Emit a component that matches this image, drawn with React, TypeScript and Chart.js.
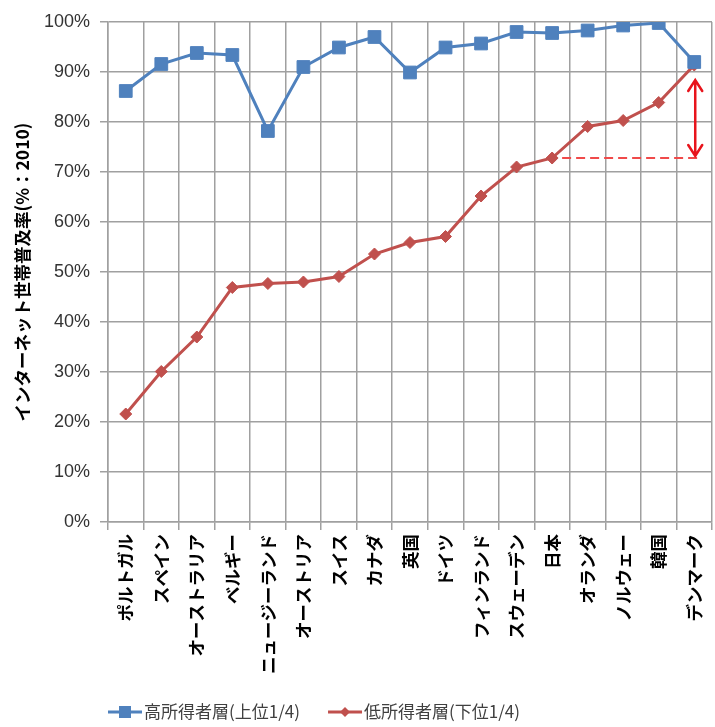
import React, { useEffect, useRef } from 'react';
import { Chart, registerables } from 'chart.js';

Chart.register(...registerables);

// ---- data ----
const countries = [
  'ポルトガル', 'スペイン', 'オーストラリア', 'ベルギー', 'ニュージーランド', 'オーストリア',
  'スイス', 'カナダ', '英国', 'ドイツ', 'フィンランド', 'スウェーデン', '日本', 'オランダ',
  'ノルウェー', '韓国', 'デンマーク',
];
const highIncome = [86.2, 91.6, 93.8, 93.4, 78.2, 91.0, 94.9, 97.0, 89.9, 94.9, 95.7, 98.0, 97.8, 98.3, 99.3, 99.8, 92.0];
const lowIncome = [21.6, 30.1, 37.0, 46.9, 47.7, 48.0, 49.1, 53.6, 55.9, 57.1, 65.2, 71.0, 72.8, 79.1, 80.3, 83.9, 91.4];
const seriesNames = ['高所得者層(上位1/4)', '低所得者層(下位1/4)'];
const yTitle = 'インターネット世帯普及率(%：2010)';
const yMin = 0;
const yMax = 100;
const yStep = 10;
const gapFrom = '日本';
const gapTo = 'デンマーク';

const BLUE = '#4F81BD';
const RED = '#C0504D';
const ARROW_RED = '#E8141C';
const GRID = '#a0a0a0';
const JP = '"Noto Sans CJK JP", "Noto Sans", sans-serif';

const gapPlugin = {
  id: 'gapAnnotation',
  afterDatasetsDraw(chart: any) {
    const { ctx } = chart;
    const xs = chart.scales.x;
    const ys = chart.scales.y;
    const iFrom = countries.indexOf(gapFrom);
    const iTo = countries.indexOf(gapTo);
    const half = (xs.getPixelForValue(1) - xs.getPixelForValue(0)) / 2;
    const xFrom = xs.getPixelForValue(iFrom);
    const xTo = xs.getPixelForValue(iTo);
    const yFrom = ys.getPixelForValue(lowIncome[iFrom]);
    const yTop = ys.getPixelForValue(lowIncome[iTo]);
    ctx.save();
    // dashed reference line
    ctx.strokeStyle = '#F04A4A';
    ctx.lineWidth = 2;
    ctx.setLineDash([9, 5]);
    ctx.beginPath();
    ctx.moveTo(xFrom + 10, yFrom);
    ctx.lineTo(xTo + half * 0.35, yFrom);
    ctx.stroke();
    ctx.setLineDash([]);
    // double arrow
    const ax = xTo + 1;
    const a1 = yTop + 15;
    const a2 = yFrom - 2;
    ctx.strokeStyle = ARROW_RED;
    ctx.lineWidth = 2.5;
    ctx.lineCap = 'round';
    ctx.beginPath();
    ctx.moveTo(ax, a1);
    ctx.lineTo(ax, a2);
    ctx.moveTo(ax - 7, a1 + 11);
    ctx.lineTo(ax, a1);
    ctx.lineTo(ax + 7, a1 + 11);
    ctx.moveTo(ax - 7, a2 - 11);
    ctx.lineTo(ax, a2);
    ctx.lineTo(ax + 7, a2 - 11);
    ctx.stroke();
    ctx.restore();
  },
};

const legendPlugin = {
  id: 'lineLegend',
  afterDraw(chart: any) {
    const { ctx } = chart;
    const y = chart.height - 15;
    let x = chart.chartArea.left;
    ctx.save();
    ctx.font = `17px ${JP}`;
    ctx.textBaseline = 'middle';
    chart.data.datasets.forEach((ds: any, i: number) => {
      const lineW = 34;
      ctx.strokeStyle = ds.borderColor;
      ctx.lineWidth = 3;
      ctx.beginPath();
      ctx.moveTo(x, y);
      ctx.lineTo(x + lineW, y);
      ctx.stroke();
      const cx = x + lineW / 2;
      ctx.fillStyle = ds.borderColor;
      ctx.beginPath();
      if (i === 0) {
        ctx.rect(cx - 6, y - 6, 12, 12);
      } else {
        ctx.moveTo(cx, y - 5);
        ctx.lineTo(cx + 5, y);
        ctx.lineTo(cx, y + 5);
        ctx.lineTo(cx - 5, y);
        ctx.closePath();
      }
      ctx.fill();
      ctx.fillStyle = '#404040';
      ctx.fillText(ds.label, x + lineW + 2, y);
      x += lineW + 2 + ctx.measureText(ds.label).width + 28;
    });
    ctx.restore();
  },
};

export default function App() {
  const ref = useRef<HTMLCanvasElement>(null);

  useEffect(() => {
    if (!ref.current) return;
    const chart = new Chart(ref.current, {
      type: 'line',
      data: {
        labels: countries,
        datasets: [
          {
            label: seriesNames[0],
            data: highIncome,
            borderColor: BLUE,
            backgroundColor: BLUE,
            borderWidth: 3,
            pointStyle: 'rect',
            pointRadius: 9,
            pointBorderWidth: 1,
            pointBackgroundColor: BLUE,
            pointBorderColor: BLUE,
            tension: 0,
          },
          {
            label: seriesNames[1],
            data: lowIncome,
            borderColor: RED,
            backgroundColor: RED,
            borderWidth: 3,
            pointStyle: 'rectRot',
            pointRadius: 6,
            pointBorderWidth: 1,
            pointBackgroundColor: RED,
            pointBorderColor: RED,
            tension: 0,
          },
        ],
      },
      options: {
        responsive: false,
        animation: false,
        layout: { padding: { left: 0, right: 2, top: 22, bottom: 40 } },
        plugins: {
          legend: { display: false },
          tooltip: { enabled: false },
        },
        scales: {
          x: {
            type: 'category',
            offset: true,
            grid: { offset: true, color: GRID, lineWidth: 1.5, tickLength: 8 },
            border: { color: GRID, width: 1.5 },
            ticks: {
              autoSkip: false,
              maxRotation: 90,
              minRotation: 90,
              padding: 4,
              color: '#000',
              font: { family: JP, size: 17.5, weight: 'bold' },
            },
            afterFit: (scale: any) => { scale.height = 165; },
          },
          y: {
            min: yMin,
            max: yMax,
            grid: { color: GRID, lineWidth: 1.5, tickLength: 8 },
            border: { color: GRID, width: 1.5 },
            ticks: {
              stepSize: yStep,
              padding: 10,
              color: '#333',
              font: { family: '"Liberation Sans", Arial, sans-serif', size: 18 },
              callback: (v: any) => `${v}%`,
            },
            title: {
              display: true,
              text: yTitle,
              color: '#000',
              padding: { top: 12, bottom: 0 },
              font: { family: JP, size: 17.5, weight: 'bold' },
            },
            afterFit: (scale: any) => { scale.width = 108; },
          },
        },
      },
      plugins: [gapPlugin, legendPlugin],
    });
    return () => chart.destroy();
  }, []);

  return (
    <div style={{ position: 'fixed', left: 0, top: 0, width: 715, height: 727, overflow: 'hidden', background: '#fff' }}>
      <canvas ref={ref} width={722} height={727} style={{ display: 'block', width: 722, height: 727 }} />
    </div>
  );
}
